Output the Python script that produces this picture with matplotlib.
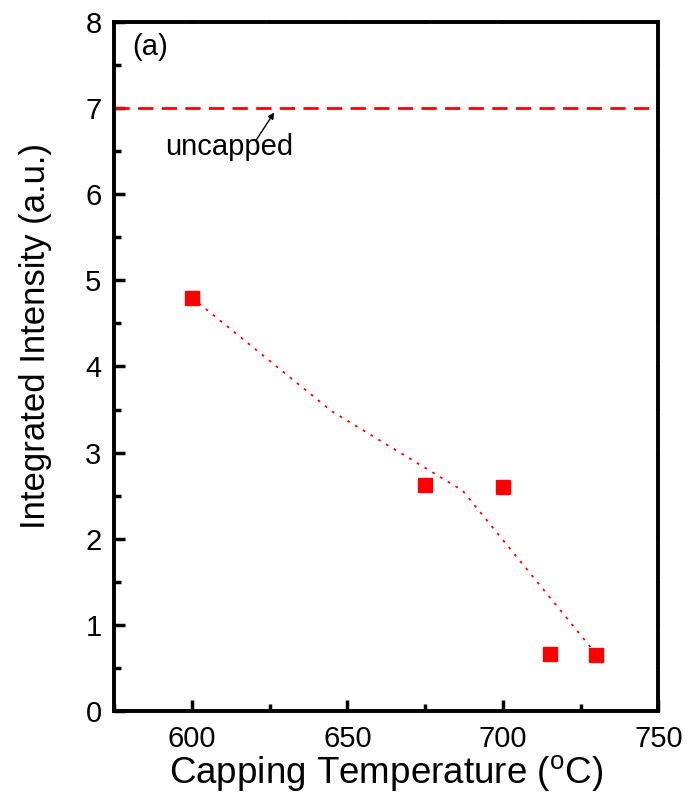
import matplotlib
matplotlib.use("Agg")
import matplotlib.pyplot as plt
from matplotlib.ticker import MultipleLocator

# measured points
temp = [600, 675, 700, 715, 730]
intensity = [4.80, 2.62, 2.60, 0.66, 0.65]

# smoothed guide line (dotted)
guide_x = [600, 645, 687, 730]
guide_y = [4.80, 3.48, 2.56, 0.66]

uncapped_level = 7.0

plt.rcParams["font.family"] = ["Liberation Sans", "DejaVu Sans"]

fig = plt.figure(figsize=(6.89, 8.01), dpi=100)
ax = fig.add_axes([0.1655, 0.1124, 0.7902, 0.8601])

ax.plot(guide_x, guide_y, color="red", lw=1.3, dashes=(1.5, 3.5), zorder=2)
ax.plot(temp, intensity, "s", color="red", ms=10, zorder=3)
ax.axhline(uncapped_level, color="red", lw=2, dashes=(5.5, 3), zorder=2)

ax.annotate("", xy=(626.5, 6.95), xytext=(620.7, 6.63),
            arrowprops=dict(arrowstyle="-|>", color="black", lw=1,
                            mutation_scale=9, shrinkA=0, shrinkB=0))
ax.text(612, 6.55, "uncapped", ha="center", va="center", fontsize=21)
ax.text(580.8, 7.71, "(a)", ha="left", va="center", fontsize=21)

ax.set_xlim(575, 750)
ax.set_ylim(0, 8)
ax.xaxis.set_major_locator(MultipleLocator(50))
ax.xaxis.set_minor_locator(MultipleLocator(25))
ax.yaxis.set_major_locator(MultipleLocator(1))
ax.yaxis.set_minor_locator(MultipleLocator(0.5))

ax.tick_params(which="major", direction="in", length=8, width=2.5,
               labelsize=21, pad=9)
ax.tick_params(axis="x", which="major", pad=10)
ax.tick_params(which="minor", direction="in", length=5, width=2.5)
for s in ax.spines.values():
    s.set_linewidth(2.8)

for side in ("top", "right"):
    if side == "top":
        sec = ax.secondary_xaxis("top")
        sec.xaxis.set_major_locator(MultipleLocator(25))
    else:
        sec = ax.secondary_yaxis("right")
        sec.yaxis.set_major_locator(MultipleLocator(0.5))
    sec.tick_params(direction="inout", length=3, width=1.5,
                    labelleft=False, labelright=False,
                    labeltop=False, labelbottom=False)
    sec.spines[side].set_visible(False)

ax.set_xlabel("Capping Temperature ($\\mathregular{^{o}}$C)", fontsize=26.5, labelpad=0)
ax.set_ylabel("Integrated Intensity (a.u.)", fontsize=25)
ax.yaxis.set_label_coords(-0.114, 0.544)

fig.savefig("out.png", dpi=100)
